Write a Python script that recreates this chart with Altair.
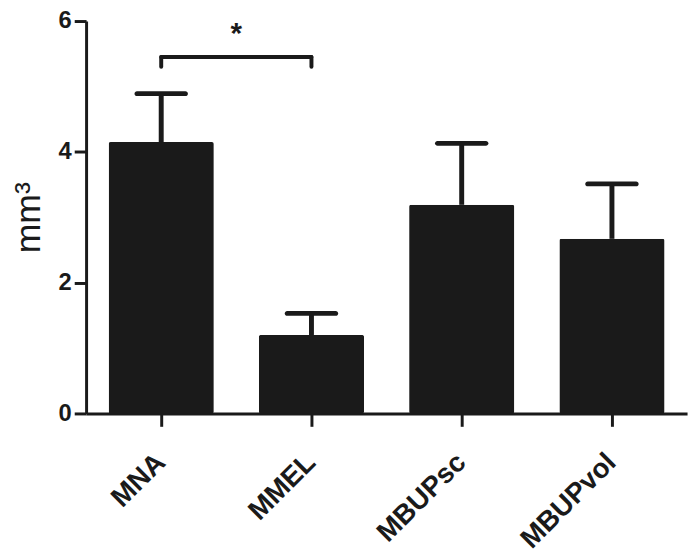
import altair as alt
import pandas as pd

categories = ["MNA", "MMEL", "MBUPsc", "MBUPvol"]
means = [4.15, 1.20, 3.19, 2.67]
upper = [4.89, 1.53, 4.13, 3.51]

# significance bracket between MNA and MMEL
bracket_from = "MNA"
bracket_to = "MMEL"
bracket_y = 5.45
bracket_foot = 5.30
star_y = 5.80
star_label = "*"

ink = "#1a1a1a"
font = "Liberation Sans"

df = pd.DataFrame({"cat": categories, "mean": means, "upper": upper})

xscale = alt.Scale(domain=categories, paddingInner=0.3, paddingOuter=0.15)
yscale = alt.Scale(domain=[0, 6])

x_enc = alt.X("cat:N", scale=xscale, sort=categories, title=None,
              axis=alt.Axis(labelAngle=-45, labelFont=font, labelFontSize=28,
                            labelFontWeight="bold", labelColor=ink,
                            labelPadding=32, tickSize=13, tickWidth=3,
                            tickColor=ink, domainColor=ink, domainWidth=3,
                            labelAlign="right", labelBaseline="middle"))
y_enc = alt.Y("mean:Q", scale=yscale, title="mm³",
              axis=alt.Axis(values=[0, 2, 4, 6], format="d", labelFont=font, labelFontSize=24,
                            labelFontWeight="bold", labelColor=ink, labelPadding=3,
                            tickSize=12, tickWidth=3, tickColor=ink,
                            domainColor=ink, domainWidth=3, grid=False,
                            titleFont=font, titleFontSize=36, titleFontWeight="normal",
                            titleColor=ink, titlePadding=11))

bars = alt.Chart(df).mark_bar(color=ink, cornerRadius=2).encode(x=x_enc, y=y_enc)

err = alt.Chart(df).mark_rule(color=ink, strokeWidth=5).encode(
    x=alt.X("cat:N", scale=xscale, sort=categories),
    y=alt.Y("mean:Q", scale=yscale),
    y2="upper:Q",
)
caps = alt.Chart(df).mark_tick(color=ink, size=54, thickness=5, cornerRadius=2.5,
                               opacity=1).encode(
    x=alt.X("cat:N", scale=xscale, sort=categories),
    y=alt.Y("upper:Q", scale=yscale),
)

br = pd.DataFrame({"a": [bracket_from], "b": [bracket_to], "y": [bracket_y]})
br_h = alt.Chart(br).mark_rule(color=ink, strokeWidth=4, strokeCap="round").encode(
    x=alt.X("a:N", scale=xscale, sort=categories), x2="b:N",
    y=alt.Y("y:Q", scale=yscale),
)
feet = pd.DataFrame({"c": [bracket_from, bracket_to],
                     "y1": [bracket_foot, bracket_foot],
                     "y2": [bracket_y, bracket_y]})
br_v = alt.Chart(feet).mark_rule(color=ink, strokeWidth=4, strokeCap="round").encode(
    x=alt.X("c:N", scale=xscale, sort=categories),
    y=alt.Y("y1:Q", scale=yscale), y2="y2:Q",
)
star = alt.Chart(pd.DataFrame({"c": [bracket_from], "y": [star_y], "t": [star_label]})).mark_text(
    font=font, fontSize=30, fontWeight="bold", color=ink, dx=76, baseline="middle"
).encode(
    x=alt.X("c:N", scale=xscale, sort=categories),
    y=alt.Y("y:Q", scale=yscale),
    text="t:N",
)

chart = alt.layer(bars, err, caps, br_h, br_v, star).properties(
    width=608, height=397,
    background="white",
    autosize=alt.AutoSizeParams(type="none"),
    padding={"left": 79, "top": 10, "right": 5, "bottom": 140},
).configure_view(stroke=None)

chart.save("out.html", embed_options={"renderer": "svg", "actions": False})
